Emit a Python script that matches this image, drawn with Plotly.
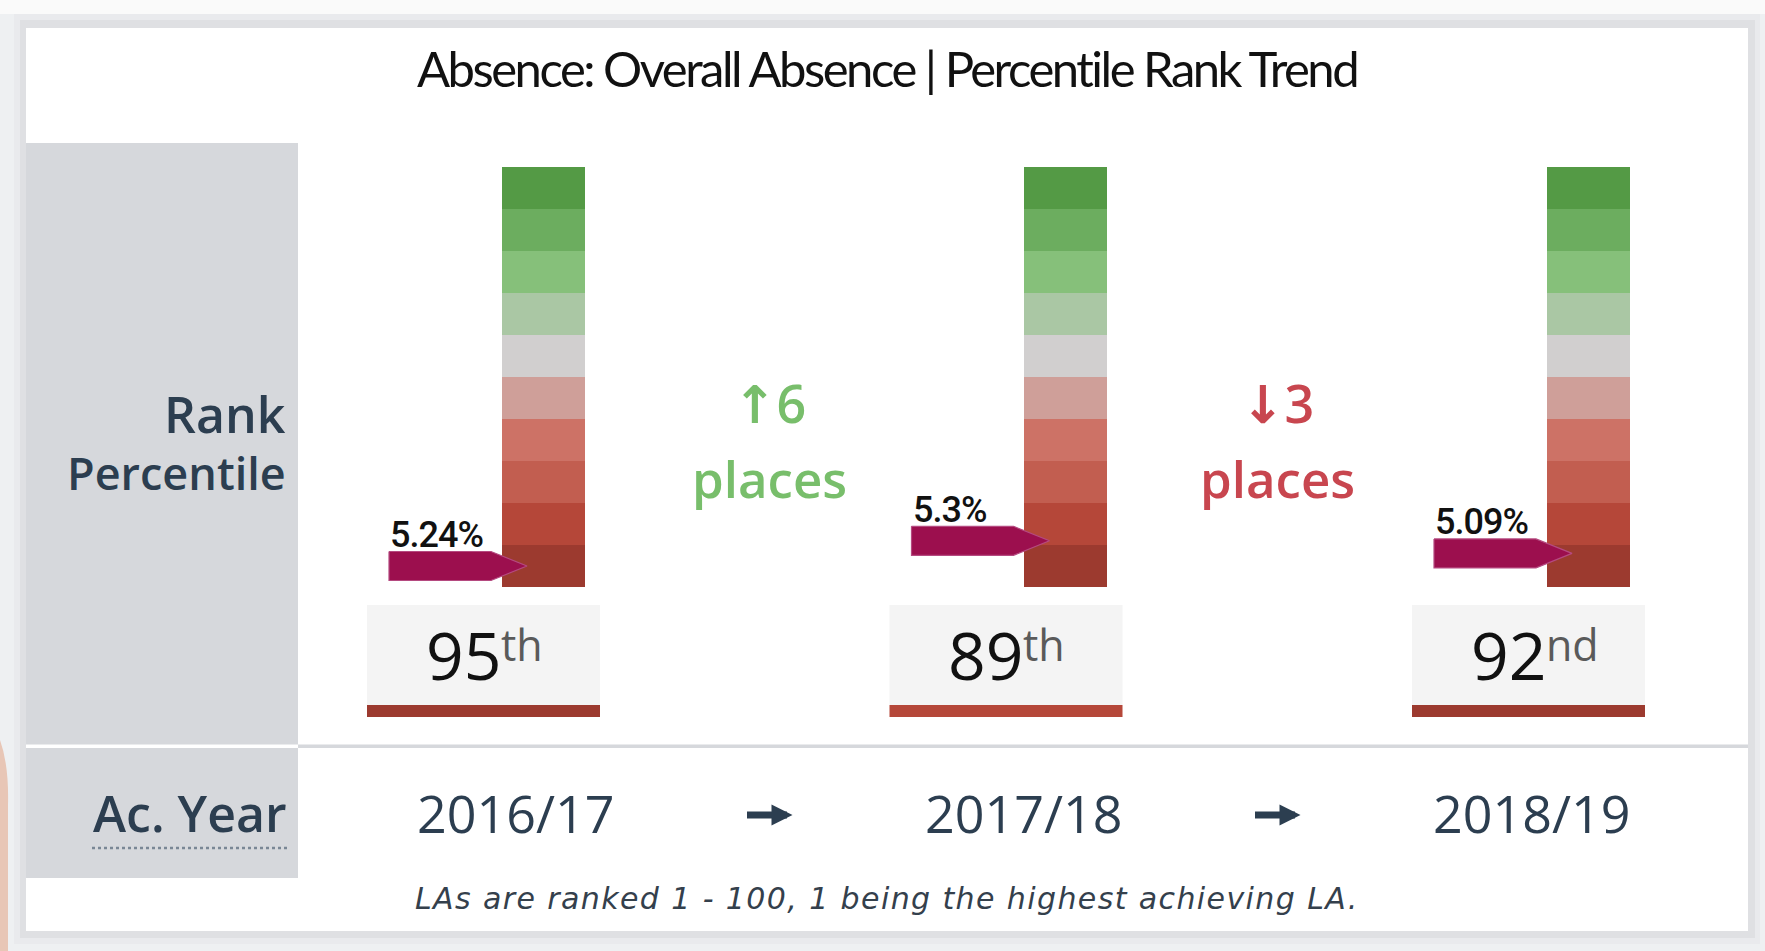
import plotly.graph_objects as go

# ---------------- data ----------------
title_text = "Absence: Overall Absence | Percentile Rank Trend"
years = ["2016/17", "2017/18", "2018/19"]
ranks = [95, 89, 92]
rate_labels = ["5.24%", "5.3%", "5.09%"]
band_starts = [0, 10, 20, 30, 40, 50, 60, 70, 80, 90]
band_sizes = [10, 10, 10, 10, 10, 10, 10, 10, 10, 10]
band_colors = ["#549a45", "#6cad5f", "#86c07a", "#aac7a4", "#d1cfcf",
               "#cf9f99", "#cd7266", "#c25e50", "#b54739", "#9c3a2f"]
row_label_rank = ["Rank", "Percentile"]
row_label_year = "Ac. Year"
footnote = "LAs are ranked 1 - 100, 1 being the highest achieving LA."

# ---------------- geometry (pixels) ----------------
W, H = 1765, 951
BAR_X0, BAR_STEP = 543.0, 522.5        # centre of first bar, spacing
Y_TOP, Y_SCALE = 167.0, 4.2             # pixel of rank 0, px per rank
YEAR_X0, YEAR_STEP = 515.0, 508.0       # year row centres


def px(x):
    return x / W


def py(y):
    return 1 - y / H


def ux(p):  # pixel length -> x units
    return p / BAR_STEP


def ry(p):  # pixel y -> rank units
    return (p - Y_TOP) / Y_SCALE


def ordinal(n):
    if 10 <= n % 100 <= 20:
        return "th"
    return {1: "st", 2: "nd", 3: "rd"}.get(n % 10, "th")


xi = list(range(len(years)))
fig = go.Figure()

# colour band bars
for k in range(len(band_starts)):
    fig.add_trace(go.Bar(
        x=xi, y=[band_sizes[k]] * len(xi), base=[band_starts[k]] * len(xi),
        width=ux(83), marker=dict(color=band_colors[k], line=dict(width=0)),
        hoverinfo="skip", showlegend=False))

# pointer arrows at rank
L, S, T, HH = ux(-154), ux(-52), ux(-16), 14.5 / Y_SCALE
for i, r in zip(xi, ranks):
    fig.add_trace(go.Scatter(
        x=[i + L, i + S, i + T, i + S, i + L, i + L],
        y=[r - HH, r - HH, r, r + HH, r + HH, r - HH],
        mode="lines", fill="toself", fillcolor="#9c0f4e",
        line=dict(color="#b54a80", width=1.2),
        hoverinfo="skip", showlegend=False))

annotations = []
shapes = []

# background / card
shapes += [
    dict(type="rect", xref="paper", yref="paper", x0=px(0), x1=px(W), y0=py(0), y1=py(14),
         fillcolor="#fafafa", line_width=0, layer="below"),
    dict(type="rect", xref="paper", yref="paper", x0=px(14), x1=px(1760), y0=py(14), y1=py(944),
         fillcolor="#e9eaed", line_width=0, layer="below"),
    dict(type="rect", xref="paper", yref="paper", x0=px(20), x1=px(1755), y0=py(20), y1=py(938),
         fillcolor="#dfe0e3", line_width=0, layer="below"),
    dict(type="rect", xref="paper", yref="paper", x0=px(26), x1=px(1748), y0=py(28), y1=py(931),
         fillcolor="#ffffff", line_width=0, layer="below"),
    dict(type="path", xref="paper", yref="paper",
         path=f"M {px(0)},{py(740)} Q {px(9)},{py(765)} {px(8)},{py(805)} L {px(8)},{py(951)} L {px(0)},{py(951)} Z",
         fillcolor="#e8c6b6", line_width=0, layer="below"),
    # left grey panel
    dict(type="rect", xref="paper", yref="paper", x0=px(26), x1=px(298), y0=py(143), y1=py(744.5),
         fillcolor="#d6d8dc", line_width=0, layer="below"),
    dict(type="rect", xref="paper", yref="paper", x0=px(26), x1=px(298), y0=py(748), y1=py(878),
         fillcolor="#d6d8dc", line_width=0, layer="below"),
    # divider
    dict(type="rect", xref="paper", yref="paper", x0=px(298), x1=px(1748), y0=py(744.5), y1=py(748),
         fillcolor="#d6d8dc", line_width=0, layer="below"),
    # dotted underline
    dict(type="line", xref="paper", yref="paper", x0=px(92), x1=px(287), y0=py(848), y1=py(848),
         line=dict(color="#7a8795", width=2.5, dash="dot"), layer="above"),
]

# rank boxes
BOX_L, BOX_R = ux(-176), ux(57)
for i, r in zip(xi, ranks):
    band = min(max((r - 1) // 10, 0), 9)
    cx = i + (BOX_L + BOX_R) / 2
    shapes.append(dict(type="rect", xref="x", yref="y", x0=i + BOX_L, x1=i + BOX_R,
                       y0=ry(605), y1=ry(705), fillcolor="#f4f4f4", line_width=0, layer="below"))
    shapes.append(dict(type="rect", xref="x", yref="y", x0=i + BOX_L, x1=i + BOX_R,
                       y0=ry(705), y1=ry(717), fillcolor=band_colors[band], line_width=0, layer="below"))
    annotations.append(dict(
        xref="x", yref="y", x=cx + ux(18), y=ry(680 - 0.388 * 66), text=str(r),
        showarrow=False, xanchor="right", yanchor="middle", borderpad=0,
        font=dict(family="Open Sans", size=66, color="#111111")))
    annotations.append(dict(
        xref="x", yref="y", x=cx + ux(16), y=ry(661 - 0.388 * 43), text=ordinal(r),
        showarrow=False, xanchor="left", yanchor="middle", borderpad=0,
        font=dict(family="Open Sans", size=43, color="#5a5a5a")))
    # value label above pointer
    annotations.append(dict(
        xref="x", yref="y", x=i + L, y=r - 7.4,
        text=f"<span style='letter-spacing:-1px'>{rate_labels[i]}</span>",
        showarrow=False, xanchor="left", yanchor="middle", borderpad=0,
        font=dict(family="Roboto", size=36, color="#111111", weight=500)))

# change labels between years
for i in range(1, len(ranks)):
    d = ranks[i - 1] - ranks[i]
    up = d > 0
    col = "#78be6b" if up else "#c8464f"
    arrow = "↑" if up else "↓"
    annotations.append(dict(
        xref="x2", yref="paper", x=i - 0.5, y=py(402),
        text=f"<span style='font-family:DejaVu Sans'><b>{arrow}</b></span>{abs(d)}",
        showarrow=False, xanchor="center", yanchor="middle",
        font=dict(family="Open Sans", size=52, color=col, weight=600)))
    annotations.append(dict(
        xref="x2", yref="paper", x=i - 0.5, y=py(478),
        text="places", showarrow=False, xanchor="center", yanchor="middle",
        font=dict(family="Open Sans", size=51, color=col, weight=600)))

# year row
for i, yr in zip(xi, years):
    annotations.append(dict(
        xref="x2", yref="paper", x=i, y=py(812), text=yr, showarrow=False,
        xanchor="center", yanchor="middle",
        font=dict(family="Open Sans", size=52, color="#2c3e50")))
for i in range(1, len(years)):
    annotations.append(dict(
        xref="x2", yref="paper", x=i - 0.5 + 23.5 / YEAR_STEP, y=py(815), text="",
        showarrow=True, ax=-47, ay=0, axref="pixel", ayref="pixel",
        arrowhead=2, arrowsize=0.6, arrowwidth=7, arrowcolor="#2c3e50", standoff=0))

# left labels, title, footnote
annotations += [
    dict(xref="paper", yref="paper", x=px(288), y=py(414), text=row_label_rank[0],
         showarrow=False, xanchor="right", yanchor="middle",
         font=dict(family="Open Sans", size=50, color="#2c3e50", weight=600)),
    dict(xref="paper", yref="paper", x=px(288), y=py(472), text=row_label_rank[1],
         showarrow=False, xanchor="right", yanchor="middle",
         font=dict(family="Open Sans", size=45, color="#2c3e50", weight=600)),
    dict(xref="paper", yref="paper", x=px(289), y=py(813), text=row_label_year,
         showarrow=False, xanchor="right", yanchor="middle",
         font=dict(family="Open Sans", size=50, color="#2c3e50", weight=600)),
    dict(xref="paper", yref="paper", x=px(887), y=py(68),
         text=f"<span style='letter-spacing:-2.5px'>{title_text}</span>",
         showarrow=False, xanchor="center", yanchor="middle",
         font=dict(family="Lato", size=49, color="#111111")),
    dict(xref="paper", yref="paper", x=px(887), y=py(898),
         text=f"<i><span style='letter-spacing:1.4px'>{footnote}</span></i>",
         showarrow=False, xanchor="center", yanchor="middle",
         font=dict(family="DejaVu Sans", size=30, color="#34404c")),
]

fig.update_layout(
    width=W, height=H, autosize=False,
    margin=dict(l=0, r=0, t=0, b=0, pad=0),
    paper_bgcolor="#eef0f2", plot_bgcolor="rgba(0,0,0,0)",
    barmode="overlay", bargap=0, hovermode=False, showlegend=False,
    xaxis=dict(range=[-BAR_X0 / BAR_STEP, (W - BAR_X0) / BAR_STEP], domain=[0, 1],
               visible=False, fixedrange=True),
    xaxis2=dict(range=[-YEAR_X0 / YEAR_STEP, (W - YEAR_X0) / YEAR_STEP], domain=[0, 1],
                overlaying="x", anchor="y", visible=False, fixedrange=True),
    yaxis=dict(range=[(H - Y_TOP) / Y_SCALE, -Y_TOP / Y_SCALE], domain=[0, 1],
               visible=False, fixedrange=True),
    shapes=shapes, annotations=annotations,
)

fig.write_html("out.html", config={"displayModeBar": False, "staticPlot": True},
               post_script="document.body.style.margin='0';document.body.style.overflow='hidden';")
